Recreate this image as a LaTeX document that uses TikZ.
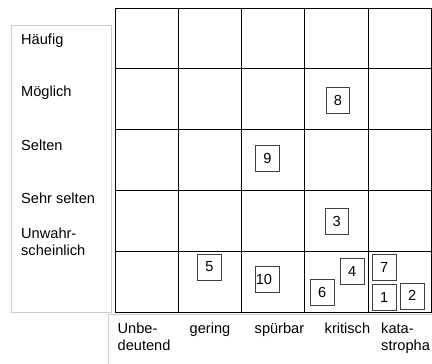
\documentclass[tikz,border=0pt]{standalone}
\usepackage{fontspec}
\setmainfont{Liberation Sans}
\usepackage{tikz}

\tikzset{
  numbox/.style={draw=black!75, line width=0.7pt, minimum width=23.5pt, minimum height=26pt, inner sep=0pt},
  lbl/.style={anchor=base west, inner sep=0pt, align=left},
  frame/.style={draw=gray!40, line width=0.8pt}
}

\begin{document}
\begin{tikzpicture}[x=1pt, y=-1pt, font=\fontsize{14.6}{16.6}\selectfont]
    \clip (0,0) rectangle (432,364);
    \useasboundingbox (0,0) rectangle (432,364);

    % Label frames
    \draw[frame] (11.3,25) rectangle (111.7,312.3);
    \draw[frame] (108.7,314.3) rectangle (440,370);

    % Risk grid
    \foreach \i in {0,...,5}
        \draw[line width=1pt] (115+63.3*\i,8) -- (115+63.3*\i,312.5);
    \foreach \j in {0,...,5}
        \draw[line width=1pt] (115,8+60.9*\j) -- (431.5,8+60.9*\j);

    % Likelihood
    \node[lbl] (haeufig) at (21,45) {Häufig};
    \node[lbl] (moeglich) at (21,96.7) {Möglich};
    \node[lbl] (selten) at (21,150.7) {Selten};
    \node[lbl] (sehrselten) at (21,203) {Sehr selten};
    \node[lbl] (unwahr) at (21,255.3) {Unwahr-\\scheinlich};

    % Impact
    \node[lbl] (unbe) at (117.5,350.3) {Unbe-\\deutend};
    \node[lbl] (gering) at (189.5,333.7) {gering};
    \node[lbl] (spuerbar) at (254.5,333.7) {spürbar};
    \node[lbl] (kritisch) at (324.5,333.7) {kritisch};
    \node[lbl] (kata) at (381,350.3) {kata-\\stropha};

    % Risks
    \node[numbox] (n8) at (338,100.5) {8};
    \node[numbox] (n9) at (267.5,158.7) {9};
    \node[numbox] (n3) at (336.7,221.5) {3};
    \node[numbox] (n5) at (209.4,267) {5};
    \node[numbox, text width=23.5pt, inner xsep=0pt, align=left] (n10) at (267.5,279.2) {10};
    \node[numbox] (n4) at (352.3,271.8) {4};
    \node[numbox] (n6) at (322.3,292.3) {6};
    \node[numbox] (n7) at (384.2,267) {7};
    \node[numbox] (n1) at (384.2,297.3) {1};
    \node[numbox] (n2) at (412.3,295.9) {2};
\end{tikzpicture}
\end{document}
